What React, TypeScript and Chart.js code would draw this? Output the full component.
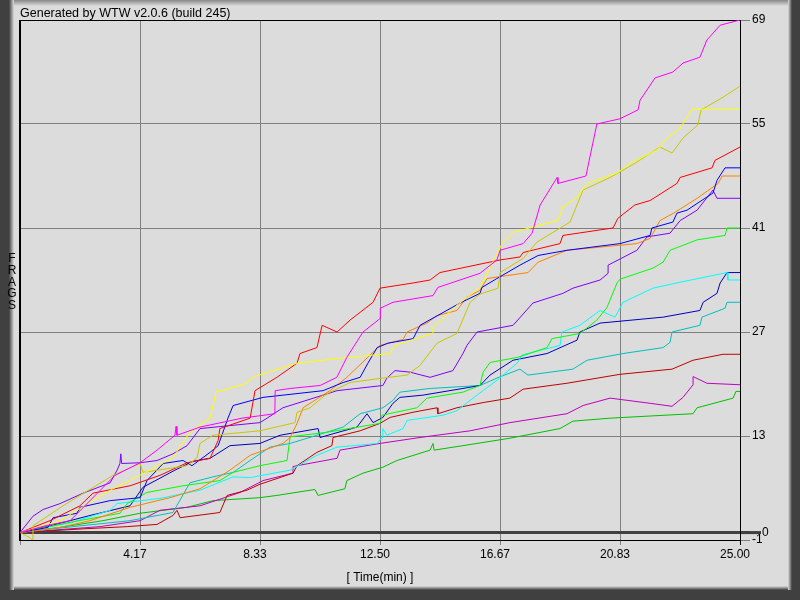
import { useEffect, useRef } from "react";
import { Chart, registerables } from "chart.js";

Chart.register(...registerables);

// x: time (min), y: frags
const xTicks = [0, 25 / 6, 50 / 6, 12.5, 100 / 6, 125 / 6, 25];
const yTicks = [-1, 0, 13, 27, 41, 55, 69];
const titleText = "Generated by WTW v2.0.6 (build 245)";
const xTitle = "[ Time(min) ]";
const yTitle = "FRAGS";

const magenta: [number, number][] = [[0,0],[0.87,0.9],[1.74,1.6],[2.43,4.3],[3.3,7.7],[4.17,9.4],[4.76,11.1],[5.38,13.1],[5.42,14.3],[5.45,13.1],[6.25,14.2],[7.71,15.4],[8.85,16.0],[8.86,19.1],[9.38,19.4],[10.42,19.8],[11.0,20.9],[11.35,23.6],[11.91,27.0],[12.5,28.8],[12.51,30.2],[12.95,31.0],[14.34,31.9],[14.51,33.0],[15.97,34.9],[16.56,36.7],[16.67,38.0],[17.47,38.9],[17.78,40.3],[18.06,44.1],[18.65,47.8],[18.68,47.0],[19.65,48.0],[20.03,55.0],[20.83,55.7],[21.46,56.9],[21.53,58.2],[22.05,61.2],[22.67,62.0],[23.02,63.2],[23.61,64.0],[23.85,66.3],[24.31,68.3],[25,69]];
const yellow: [number, number][] = [[0,0],[1.39,1.6],[3.13,5.7],[4.51,8.4],[5.31,10.1],[5.9,13.5],[6.6,15.4],[6.81,18.9],[7.88,20.1],[8.06,20.9],[9.62,22.8],[11.22,23.5],[12.85,24.1],[13.02,25.2],[14.31,26.8],[14.34,27.6],[15.17,30.6],[15.97,33.0],[16.74,38.9],[17.12,40.4],[18.06,41.4],[18.68,42.0],[18.85,43.9],[19.34,45.1],[19.69,47.0],[20.73,48.4],[21.18,49.7],[22.12,51.5],[22.47,53.1],[22.92,54.4],[23.33,57.0],[25,57.0]];
const olive: [number, number][] = [[0,0],[0.35,-0.7],[0.42,-1.0],[0.45,0.9],[1.49,3.6],[3.23,7.7],[4.17,9.3],[4.27,8.1],[5.8,9.0],[6.15,10.1],[6.25,12.0],[6.7,13.1],[8.33,13.7],[9.55,14.8],[9.62,16.2],[10.07,16.8],[10.66,18.7],[11.46,20.2],[12.6,20.8],[13.44,21.2],[13.89,22.5],[14.48,25.5],[15.17,26.8],[15.63,31.0],[15.97,32.1],[16.6,32.9],[16.67,35.0],[17.47,36.9],[17.95,39.1],[19.1,41.8],[19.55,46.1],[20.49,47.8],[21.35,49.7],[22.22,51.9],[22.64,51.1],[23.02,53.1],[23.54,54.9],[23.65,56.9],[24.41,58.6],[25,60.1]];
const red: [number, number][] = [[0,0],[1.04,1.6],[2.08,3.6],[2.53,5.3],[3.82,6.3],[4.86,7.7],[5.8,9.4],[6.6,10.0],[6.88,12.4],[6.94,14.0],[7.99,15.4],[8.16,19.1],[8.92,20.9],[9.62,22.8],[9.72,24.1],[10.31,24.9],[10.49,27.9],[11.01,27.0],[11.46,28.6],[12.26,31.0],[12.5,32.9],[13.65,33.6],[14.24,34.0],[14.58,35.0],[16.67,36.7],[17.36,37.1],[17.47,37.7],[18.75,38.9],[18.85,40.0],[20.59,41.0],[20.76,42.3],[21.35,44.1],[21.88,44.7],[22.81,47.0],[22.92,47.8],[24.03,49.1],[24.13,50.1],[25,51.9]];
const blue: [number, number][] = [[0,0],[0.97,0.7],[1.15,2.0],[1.98,2.6],[2.08,3.4],[3.13,4.3],[4.17,4.7],[4.41,7.0],[4.97,9.3],[5.66,9.7],[5.97,9.0],[6.6,10.8],[6.88,11.7],[7.22,15.4],[7.4,17.1],[8.44,18.2],[10.52,19.1],[11.22,20.2],[11.81,20.9],[12.08,22.8],[12.4,24.9],[12.78,25.5],[13.65,26.1],[13.89,27.9],[15.28,30.9],[15.97,32.2],[16.04,33.0],[16.56,34.2],[17.36,36.0],[17.99,37.3],[18.99,38.0],[20.83,38.9],[21.88,40.0],[21.94,41.0],[22.67,41.8],[22.81,43.0],[23.16,43.4],[24.06,45.7],[24.2,47.4],[24.48,49.1],[25,49.1]];
const orange: [number, number][] = [[0,0],[1.39,0.7],[2.43,1.6],[3.82,3.4],[5.21,4.7],[6.25,5.9],[7.29,8.4],[7.99,10.4],[9.13,12.0],[9.38,12.8],[9.62,14.7],[9.83,16.8],[10.76,19.1],[11.35,20.9],[12.05,23.5],[12.5,25.2],[13.3,26.0],[13.44,27.0],[14.13,28.2],[14.48,29.2],[15.17,29.9],[15.52,31.7],[15.97,32.6],[16.22,34.2],[17.64,35.0],[17.99,36.4],[18.99,38.0],[21.42,38.9],[21.88,39.6],[22.22,42.0],[22.74,43.1],[23.51,45.0],[24.24,47.0],[24.38,48.0],[25,48.0]];
const purple: [number, number][] = [[0,0],[0.45,2.2],[0.8,3.1],[1.39,3.9],[2.19,5.3],[3.13,6.7],[3.37,8.4],[3.47,9.3],[3.5,10.6],[3.53,9.3],[4.17,9.4],[4.76,9.7],[5.31,10.6],[5.8,11.7],[6.25,14.0],[8.33,14.8],[8.58,15.4],[9.13,16.8],[9.62,17.4],[11.01,19.1],[12.6,19.8],[12.74,20.8],[13.02,21.8],[13.54,21.6],[14.24,20.9],[15.03,21.8],[15.38,24.1],[15.52,25.2],[15.87,27.0],[17.12,27.9],[17.81,30.9],[18.85,32.2],[19.2,32.9],[20.14,34.0],[20.42,34.9],[20.42,36.0],[21.42,38.0],[21.77,39.8],[22.57,40.3],[22.92,42.0],[23.51,43.4],[24.06,46.1],[24.2,45.0],[25,45.0]];
const green: [number, number][] = [[0,0],[1.63,1.3],[3.47,2.6],[3.72,3.9],[4.41,5.4],[5.66,6.3],[6.94,7.0],[7.4,8.1],[8.33,9.0],[9.27,9.7],[9.38,12.9],[10.66,13.5],[12.5,14.7],[12.57,15.8],[13.3,16.4],[13.78,16.8],[14.13,18.1],[15.38,18.9],[15.97,19.8],[16.08,21.6],[16.32,22.9],[17.29,23.6],[18.3,24.9],[18.47,26.1],[19.44,26.8],[20.03,28.6],[20.38,30.3],[20.73,33.6],[20.83,34.1],[21.98,35.6],[22.33,36.4],[22.57,38.0],[23.51,39.4],[24.48,40.0],[24.55,41.0],[25,41.0]];
const cyan: [number, number][] = [[0,0],[1.74,1.3],[3.13,3.0],[3.37,3.9],[4.86,4.6],[6.25,5.7],[7.4,7.5],[7.99,7.4],[9.38,8.4],[10.31,10.4],[11.01,11.5],[12.4,12.0],[12.57,12.8],[12.6,14.0],[12.74,13.1],[13.3,14.0],[13.44,15.1],[14.69,15.8],[15.17,16.4],[15.63,17.8],[16.56,20.5],[17.26,22.8],[17.43,23.9],[18.75,25.2],[18.82,27.0],[19.44,27.9],[20.14,29.9],[20.66,29.0],[20.94,31.0],[21.98,32.9],[22.92,33.7],[24.55,35.0],[24.58,34.0],[25,34.0]];
const darkBlue: [number, number][] = [[0,0],[1.04,0.9],[2.43,2.3],[3.82,3.6],[4.27,6.1],[5.38,8.4],[6.01,9.6],[6.6,10.0],[7.29,11.7],[8.33,12.0],[9.03,13.1],[10.35,14.0],[10.42,12.8],[10.87,13.3],[11.7,14.2],[12.05,16.0],[12.26,14.8],[12.6,15.5],[12.95,17.4],[13.19,18.2],[13.99,18.5],[15.38,19.4],[15.97,19.8],[16.32,21.2],[17.12,23.2],[18.3,24.1],[19.34,25.9],[19.44,27.0],[20.14,28.2],[22.33,29.0],[23.61,29.9],[23.72,31.0],[24.2,32.2],[24.31,33.6],[24.55,35.0],[25,35.0]];
const teal: [number, number][] = [[0,0],[2.08,0.9],[3.82,1.6],[5.31,2.7],[5.9,6.7],[6.7,7.5],[7.4,8.1],[7.99,9.7],[8.68,11.5],[9.38,12.0],[10.31,13.1],[11.22,14.2],[11.81,16.0],[12.6,16.8],[12.95,17.8],[13.19,18.9],[14.24,19.4],[15.97,19.8],[16.56,20.8],[17.36,22.0],[17.64,21.2],[19.2,22.0],[19.69,23.2],[20.94,24.1],[22.33,24.9],[22.57,25.6],[22.64,27.0],[23.61,27.9],[23.68,29.0],[24.48,30.2],[24.55,31.0],[25,31.0]];
const darkRed: [number, number][] = [[0,0],[2.19,0.5],[3.72,0.8],[4.76,1.1],[5.31,2.3],[5.45,3.0],[5.56,2.0],[6.94,2.7],[7.19,5.0],[7.88,5.7],[8.33,6.5],[9.48,8.0],[9.62,9.0],[10.31,10.8],[10.83,11.7],[10.87,12.8],[11.81,13.7],[12.5,14.7],[12.85,15.5],[13.65,16.2],[14.48,16.8],[14.51,16.0],[15.17,16.8],[16.08,17.5],[17.01,18.1],[17.47,19.3],[18.99,20.1],[20.83,21.3],[22.64,22.0],[23.37,23.2],[24.41,24.0],[25,24.0]];
const violet: [number, number][] = [[0,0],[1.39,0.4],[2.78,0.8],[4.17,1.6],[4.86,3.0],[6.25,3.6],[7.64,5.4],[8.44,7.0],[9.48,8.0],[9.48,8.9],[11.01,10.0],[11.11,11.1],[12.5,12.0],[13.89,12.8],[15.63,13.7],[17.01,14.8],[18.99,16.0],[19.55,17.1],[20.49,18.1],[21.88,17.4],[22.64,17.0],[23.02,18.2],[23.37,19.9],[23.37,21.0],[23.85,20.1],[25,19.9]];
const darkGreen: [number, number][] = [[0,0],[1.39,0.7],[2.88,1.6],[4.17,2.6],[5.8,3.4],[6.7,4.3],[8.33,4.7],[8.92,5.0],[10.24,5.8],[10.35,5.0],[11.28,5.9],[11.35,7.0],[11.91,8.0],[12.6,8.8],[13.09,9.7],[14.24,11.1],[14.34,12.0],[14.38,11.1],[15.38,11.7],[17.01,12.7],[18.75,14.0],[19.2,15.0],[20.49,15.4],[23.37,16.0],[23.51,16.8],[24.76,18.1],[24.86,19.0],[25,19.0]];

const series: [string, [number, number][], string][] = [
  ["magenta", magenta, "#ff00ff"],
  ["yellow", yellow, "#ffff00"],
  ["olive", olive, "#c8c800"],
  ["red", red, "#ff0000"],
  ["blue", blue, "#0000ff"],
  ["orange", orange, "#ff8000"],
  ["purple", purple, "#8000ff"],
  ["green", green, "#00ff00"],
  ["cyan", cyan, "#00ffff"],
  ["darkBlue", darkBlue, "#0000c0"],
  ["teal", teal, "#00c0c0"],
  ["darkRed", darkRed, "#c00000"],
  ["violet", violet, "#c000c0"],
  ["darkGreen", darkGreen, "#00c000"],
];

const FONT = '"Liberation Sans", Arial, sans-serif';

const framePlugin = {
  id: "wtwFrame",
  beforeDraw(chart: any) {
    const { ctx, width, height } = chart;
    ctx.save();
    ctx.fillStyle = "#dcdcdc";
    ctx.fillRect(0, 0, width, height);
    let g = ctx.createLinearGradient(0, 0, 0, 6);
    g.addColorStop(0, "#888888");
    g.addColorStop(1, "#dcdcdc");
    ctx.fillStyle = g;
    ctx.fillRect(0, 0, width, 6);
    // left bevel
    ctx.fillStyle = "#404040";
    ctx.fillRect(0, 0, 9, height);
    g = ctx.createLinearGradient(9, 0, 14, 0);
    g.addColorStop(0, "#404040");
    g.addColorStop(1, "#dcdcdc");
    ctx.fillStyle = g;
    ctx.fillRect(9, 0, 5, height);
    // right bevel
    g = ctx.createLinearGradient(788, 0, 792, 0);
    g.addColorStop(0, "#dcdcdc");
    g.addColorStop(1, "#404040");
    ctx.fillStyle = g;
    ctx.fillRect(788, 0, 4, height);
    ctx.fillStyle = "#404040";
    ctx.fillRect(792, 0, 8, height);
    // bottom bevel
    g = ctx.createLinearGradient(0, 586, 0, 590);
    g.addColorStop(0, "#dcdcdc");
    g.addColorStop(1, "#404040");
    ctx.fillStyle = g;
    ctx.fillRect(14, 586, 774, 4);
    ctx.fillStyle = "#404040";
    ctx.fillRect(0, 590, width, 10);
    ctx.restore();
  },
  beforeDatasetsDraw(chart: any) {
    const { ctx, chartArea, scales } = chart;
    const { left, right, top, bottom } = chartArea;
    ctx.save();
    // extend the zero line a little past its tick
    const y0 = scales.y.getPixelForValue(0);
    ctx.strokeStyle = "#404040";
    ctx.lineWidth = 3;
    ctx.beginPath();
    ctx.moveTo(right, y0);
    ctx.lineTo(right + 21, y0);
    ctx.stroke();
    ctx.strokeStyle = "#000";
    ctx.lineWidth = 1;
    ctx.beginPath();
    ctx.moveTo(left, top + 0.5);
    ctx.lineTo(right, top + 0.5);
    ctx.moveTo(right + 0.5, top);
    ctx.lineTo(right + 0.5, bottom + 5);
    ctx.moveTo(left, bottom + 0.5);
    ctx.lineTo(right, bottom + 0.5);
    ctx.stroke();
    ctx.lineWidth = 2;
    ctx.beginPath();
    ctx.moveTo(left, top);
    ctx.lineTo(left, bottom + 1);
    ctx.stroke();
    ctx.restore();
  },
  afterDraw(chart: any) {
    const { ctx, chartArea } = chart;
    ctx.save();
    ctx.fillStyle = "#000";
    ctx.font = "12.5px " + FONT;
    ctx.textAlign = "left";
    ctx.textBaseline = "alphabetic";
    ctx.fillText(titleText, chartArea.left, 17);
    ctx.font = "12px " + FONT;
    ctx.textAlign = "center";
    ctx.textBaseline = "middle";
    const letters = yTitle.split("");
    letters.forEach((ch, i) => {
      ctx.fillText(ch, 12, 259 + i * 11.7);
    });
    ctx.restore();
  },
};

export default function App() {
  const ref = useRef<HTMLCanvasElement | null>(null);
  useEffect(() => {
    if (!ref.current) return;
    const chart = new Chart(ref.current, {
      type: "line",
      data: {
        datasets: series.map(([name, pts, color]) => ({
          label: name,
          data: pts.map(([x, y]) => ({ x, y })),
          borderColor: color,
          backgroundColor: color,
          borderWidth: 1,
          pointRadius: 0,
          tension: 0,
          fill: false,
        })),
      },
      options: {
        animation: false,
        responsive: false,
        devicePixelRatio: 1,
        layout: { padding: { left: 20, top: 20, right: 0, bottom: 0 } },
        plugins: { legend: { display: false }, tooltip: { enabled: false }, title: { display: false } },
        scales: {
          x: {
            type: "linear",
            min: 0,
            max: 25,
            offset: false,
            afterBuildTicks: (scale: any) => {
              scale.ticks = xTicks.map((v) => ({ value: v }));
            },
            afterFit: (scale: any) => {
              scale.height = 60;
            },
            border: { display: false },
            grid: { color: "#808080", lineWidth: 1, tickLength: 5, drawTicks: true },
            ticks: {
              autoSkip: false,
              maxRotation: 0,
              padding: 2,
              labelOffset: -5,
              color: "#000",
              font: { family: FONT, size: 12 },
              callback: (v: any) => (Number(v) === 0 ? "" : Number(v).toFixed(2)),
            },
            title: {
              display: true,
              text: xTitle,
              color: "#000",
              font: { family: FONT, size: 12 },
              padding: { top: 0, bottom: 15 },
            },
          },
          y: {
            type: "linear",
            position: "right",
            min: -1,
            max: 69,
            afterBuildTicks: (scale: any) => {
              scale.ticks = yTicks.map((v) => ({ value: v }));
            },
            afterFit: (scale: any) => {
              scale.width = 60;
            },
            border: { display: false },
            grid: {
              color: (c: any) => (c.tick && c.tick.value === 0 ? "#404040" : "#808080"),
              lineWidth: (c: any) => (c.tick && c.tick.value === 0 ? 3 : 1),
              tickLength: 10,
              drawTicks: true,
            },
            ticks: {
              autoSkip: false,
              padding: 2,
              color: "#000",
              font: { family: FONT, size: 12 },
              callback: (v: any) => (Number(v) === 0 ? "   0" : String(v)),
            },
          },
        },
      },
      plugins: [framePlugin],
    } as any);
    return () => chart.destroy();
  }, []);
  return (
    <div style={{ position: "absolute", left: 0, top: 0, width: 800, height: 600 }}>
      <canvas ref={ref} width={800} height={600} style={{ display: "block" }} />
    </div>
  );
}
